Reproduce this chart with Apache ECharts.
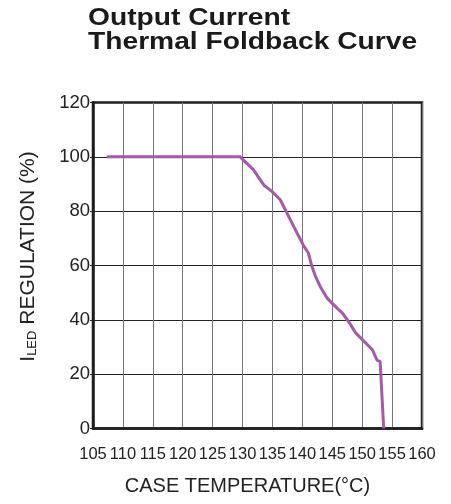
<!DOCTYPE html>
<html>
<head>
<meta charset="utf-8">
<script src="https://cdn.jsdelivr.net/npm/echarts@6/dist/echarts.min.js"></script>
<style>
html,body{margin:0;padding:0;background:#fff;}
#chart{width:451px;height:504px;}
</style>
</head>
<body>
<div id="chart"></div>
<script>
var titleLines = ['Output Current', 'Thermal Foldback Curve'];
var xAxisTitle = 'CASE TEMPERATURE(\u00B0C)';
var yAxisTitleMain = 'I';
var yAxisTitleSub = 'LED';
var yAxisTitleRest = ' REGULATION (%)';
var xTickMin = 105, xTickMax = 160, xTickStep = 5;
var yTickMin = 0, yTickMax = 120, yTickStep = 20;
var temperatures = [107.3, 129.6, 131.8, 133.6, 134.9, 136.3, 137.7, 139.1, 139.7, 140.2, 141.0, 141.6, 142.2, 143.0, 144.1, 145.8, 146.7, 147.9, 148.9, 150.4, 151.7, 152.5, 153.0, 153.6];
var regulation = [100, 100, 95.3, 89.5, 87.3, 84.2, 78.1, 72.0, 69.5, 67.3, 64.6, 59.6, 56.0, 52.2, 48.1, 44.3, 42.5, 38.8, 35.2, 31.9, 29.0, 25.1, 24.7, 0];

var data = temperatures.map(function (t, i) { return [t, regulation[i]]; });
var FONT = '"Liberation Sans", Arial, Helvetica, sans-serif';

var chart = echarts.init(document.getElementById('chart'));
chart.setOption({
  animation: false,
  backgroundColor: '#ffffff',
  grid: {
    left: 93, right: 29, top: 102.5, bottom: 75.5,
    show: true, borderColor: '#1e1e1e', borderWidth: 2.5,
    containLabel: false
  },
  xAxis: {
    type: 'value',
    min: xTickMin, max: xTickMax, interval: xTickStep,
    axisLine: { show: true, lineStyle: { color: '#1e1e1e', width: 2.5 } },
    axisTick: { show: false },
    axisLabel: { color: '#222', fontSize: 16.5, fontFamily: FONT, margin: 17.5, showMinLabel: true, showMaxLabel: true, hideOverlap: false },
    splitLine: { show: true, lineStyle: { color: '#777', width: 1 } }
  },
  yAxis: {
    type: 'value',
    min: yTickMin, max: yTickMax, interval: yTickStep,
    axisLine: { show: true, lineStyle: { color: '#1e1e1e', width: 2.5 } },
    axisTick: { show: true, length: 3, lineStyle: { color: '#222', width: 1 } },
    axisLabel: { color: '#222', fontSize: 18.5, fontFamily: FONT, margin: 3 },
    splitLine: { show: true, lineStyle: { color: '#222', width: 1 } }
  },
  series: [{
    type: 'line',
    data: data,
    showSymbol: false,
    symbol: 'none',
    smooth: false,
    lineStyle: { color: '#a659a8', width: 3 },
    z: 5
  }],
  graphic: [
    {
      type: 'text', x: 88, y: 18.5, scaleX: 1.175,
      style: { text: titleLines[0], fill: '#1a1a1a', font: 'bold 24px ' + FONT, align: 'left', verticalAlign: 'middle' }
    },
    {
      type: 'text', x: 88, y: 42.5, scaleX: 1.175,
      style: { text: titleLines[1], fill: '#1a1a1a', font: 'bold 24px ' + FONT, align: 'left', verticalAlign: 'middle' }
    },
    {
      type: 'text', x: 247.5, y: 486,
      style: { text: xAxisTitle, fill: '#222', font: '20px ' + FONT, align: 'center', verticalAlign: 'middle' }
    },
    {
      type: 'text', x: 27, y: 256.5, rotation: Math.PI / 2,
      style: {
        text: '{m|' + yAxisTitleMain + '}{s|' + yAxisTitleSub + '}{m|' + yAxisTitleRest + '}',
        align: 'center', verticalAlign: 'middle',
        rich: {
          m: { fontSize: 21, fontFamily: FONT, fill: '#222', lineHeight: 24, verticalAlign: 'bottom' },
          s: { fontSize: 13, fontFamily: FONT, fill: '#222', lineHeight: 18, verticalAlign: 'bottom' }
        }
      }
    }
  ]
});
</script>
</body>
</html>
